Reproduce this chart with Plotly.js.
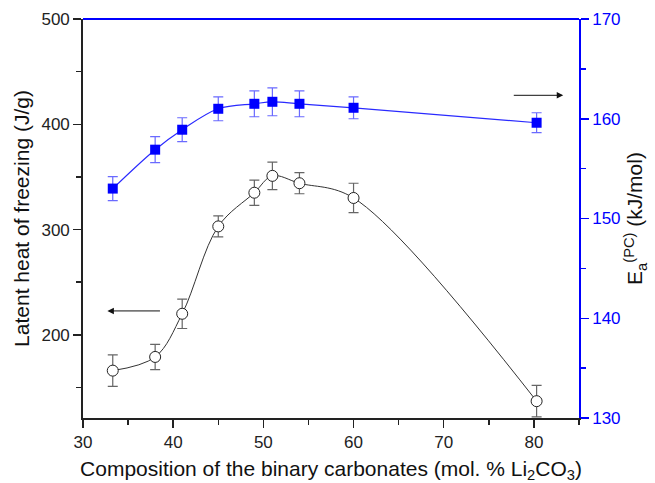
<!DOCTYPE html>
<html>
<head>
<meta charset="utf-8">
<script src="https://cdn.plot.ly/plotly-3.0.1.min.js"></script>
<style>html,body{margin:0;padding:0;background:#fff;}#chart{width:655px;height:483px;}</style>
</head>
<body>
<div id="chart"></div>
<script>
// Composition (mol. % Li2CO3)
const composition = [33.3, 38, 41, 45, 49, 51, 54, 60, 80.3];
// Latent heat of freezing (J/g), left axis
const latentHeat = [166, 179, 220, 303, 335, 351, 344, 330, 137];
const latentHeatErr = [15, 12, 14, 10, 12, 13, 10, 14, 15];
// Activation energy Ea(PC) (kJ/mol), right axis
const activationEnergy = [153.0, 156.9, 158.9, 161.0, 161.5, 161.7, 161.5, 161.1, 159.6];
const activationEnergyErr = [1.2, 1.3, 1.2, 1.2, 1.3, 1.4, 1.3, 1.1, 1.0];

// Arrow annotations (data coordinates): [tailX, headX, y]
const leftArrow = [38.7, 32.7, 222.7];
const rightArrow = [77.6, 83.25, 162.35];

const FONT = '"Liberation Sans", Arial, sans-serif';
const BLUE = '#0000ff';

const traces = [
  {
    x: composition, y: latentHeat, type: 'scatter', mode: 'lines+markers',
    line: {shape: 'spline', color: '#333333', width: 1},
    marker: {symbol: 'circle', size: 11, color: '#ffffff', line: {color: '#222222', width: 1}},
    error_y: {type: 'data', array: latentHeatErr, visible: true, color: '#666666', thickness: 1.2, width: 5},
    yaxis: 'y', showlegend: false, cliponaxis: false
  },
  {
    x: composition, y: activationEnergy, type: 'scatter', mode: 'lines+markers',
    line: {shape: 'spline', color: '#2a2aff', width: 1.2},
    marker: {symbol: 'square', size: 10, color: BLUE},
    error_y: {type: 'data', array: activationEnergyErr, visible: true, color: '#6a6aff', thickness: 1.2, width: 5},
    yaxis: 'y2', showlegend: false, cliponaxis: false
  }
];

const layout = {
  width: 655, height: 483,
  margin: {l: 83, r: 76, t: 19, b: 65},
  paper_bgcolor: '#ffffff', plot_bgcolor: '#ffffff',
  font: {family: FONT, size: 17, color: '#222222'},
  xaxis: {
    range: [30, 85], tick0: 30, dtick: 10,
    ticks: 'outside', ticklen: 8, tickwidth: 1.5, tickcolor: '#222222',
    minor: {dtick: 5, ticks: 'outside', ticklen: 5, tickwidth: 1.5, tickcolor: '#222222', showgrid: false},
    showline: true, linecolor: '#222222', linewidth: 1.8,
    showgrid: false, zeroline: false,
    tickfont: {family: FONT, size: 17, color: '#222222'},
    title: {text: 'Composition of the binary carbonates (mol. % Li<sub>2</sub>CO<sub>3</sub>)', font: {family: FONT, size: 21, color: '#111111'}, standoff: 11},
    automargin: false
  },
  yaxis: {
    range: [121, 500], tick0: 0, dtick: 100,
    ticks: 'outside', ticklen: 8, tickwidth: 1.5, tickcolor: '#222222',
    minor: {dtick: 50, ticks: 'outside', ticklen: 5, tickwidth: 1.5, tickcolor: '#222222', showgrid: false},
    showline: true, linecolor: '#222222', linewidth: 1.8,
    showgrid: false, zeroline: false,
    tickfont: {family: FONT, size: 17, color: '#222222'},
    title: {text: 'Latent heat of freezing (J/g)', font: {family: FONT, size: 21, color: '#111111'}, standoff: 6},
    automargin: false
  },
  yaxis2: {
    overlaying: 'y', side: 'right',
    range: [130, 170], tick0: 130, dtick: 10,
    ticks: 'outside', ticklen: 8, tickwidth: 1.5, tickcolor: BLUE,
    minor: {dtick: 5, ticks: 'outside', ticklen: 5, tickwidth: 1.5, tickcolor: BLUE, showgrid: false},
    showline: true, linecolor: BLUE, linewidth: 1.8,
    showgrid: false, zeroline: false,
    tickfont: {family: FONT, size: 17, color: BLUE},
    title: {text: 'E<sub>a</sub><sup>(PC)</sup> (kJ/mol)', font: {family: FONT, size: 21, color: '#111111'}, standoff: 8},
    automargin: false
  },
  shapes: [
    {type: 'line', xref: 'paper', yref: 'paper', x0: 0, x1: 1, y0: 1, y1: 1, line: {color: BLUE, width: 1.8}}
  ],
  annotations: [
    {
      xref: 'x', yref: 'y', axref: 'x', ayref: 'y',
      x: leftArrow[1], y: leftArrow[2], ax: leftArrow[0], ay: leftArrow[2],
      text: '', showarrow: true, arrowhead: 2, arrowsize: 1.3, arrowwidth: 1, arrowcolor: '#111111'
    },
    {
      xref: 'x', yref: 'y2', axref: 'x', ayref: 'y2',
      x: rightArrow[1], y: rightArrow[2], ax: rightArrow[0], ay: rightArrow[2],
      text: '', showarrow: true, arrowhead: 2, arrowsize: 1.3, arrowwidth: 1, arrowcolor: '#111111'
    }
  ]
};

Plotly.newPlot('chart', traces, layout, {displayModeBar: false, staticPlot: true});
</script>
</body>
</html>
